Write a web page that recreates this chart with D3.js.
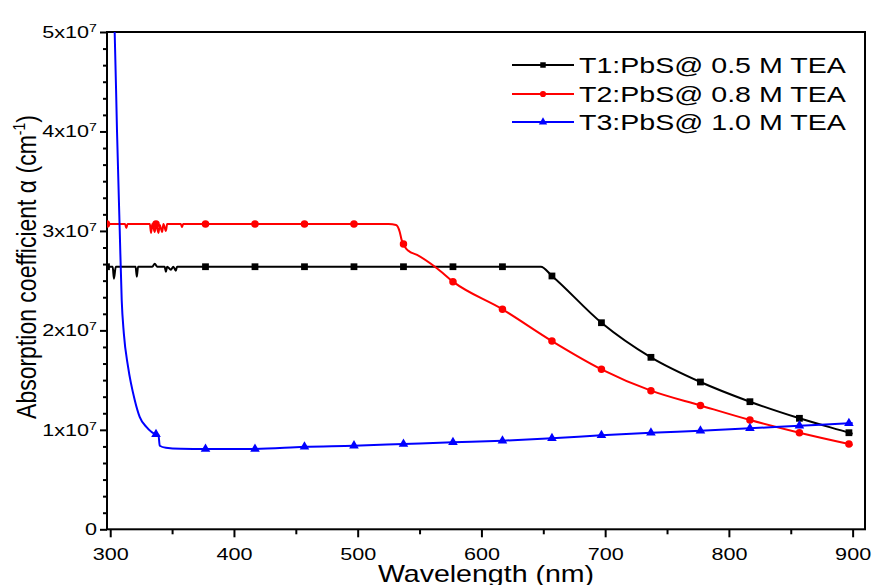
<!DOCTYPE html>
<meta charset="utf-8">
<head>
  <title>PbS absorption coefficient</title>
  <style>
    body { margin: 0; background: #fff; }
    text { font-family: "Liberation Sans", Arial, sans-serif; fill: #000; }
    .frame { fill: none; stroke: #000; stroke-width: 2px; }
    .line { fill: none; stroke-width: 2px; stroke-linejoin: round; }
    .axis line { stroke: #000; stroke-width: 2px; }
    .axis path { display: none; }
  </style>
</head>
<body>
  <svg width="872" height="585"></svg>
  <script src="https://d3js.org/d3.v7.min.js"></script>
  <script>
    // values in units of 1e7 cm^-1
    var markerWl = [297, 337, 377, 417, 457, 497, 537, 577, 617, 657, 697, 737, 777, 817, 857, 897];

    var t1Wl  = [297, 302, 303, 304.5, 320.5, 321.5, 322.5, 334, 336, 338, 344, 345, 346, 349, 351, 353, 354,
                 377, 417, 457, 497, 537, 577, 617, 648, 657, 697, 737, 777, 817, 857, 897, 900];
    var t1Val = [2.64, 2.64, 2.52, 2.64, 2.64, 2.54, 2.64, 2.64, 2.67, 2.64, 2.64, 2.59, 2.64, 2.61, 2.64, 2.60, 2.64,
                 2.64, 2.64, 2.64, 2.64, 2.64, 2.64, 2.64, 2.64, 2.547, 2.077, 1.729, 1.481, 1.283, 1.116, 0.971, 0.96];

    var t2Wl  = [297, 312, 313, 314, 332, 333, 334, 336, 337, 339, 340, 342, 343, 345, 346, 357, 358, 359,
                 377, 417, 457, 497, 525, 531, 534, 535.5, 537, 539, 541, 548, 564,
                 577, 617, 657, 697, 737, 777, 817, 857, 897, 900];
    var t2Val = [3.07, 3.07, 3.03, 3.07, 3.07, 2.98, 3.07, 2.99, 3.07, 2.98, 3.06, 2.99, 3.07, 3.0, 3.07, 3.07, 3.04, 3.07,
                 3.07, 3.07, 3.07, 3.07, 3.07, 3.06, 2.99, 2.91, 2.868, 2.825, 2.80, 2.758, 2.624,
                 2.49, 2.212, 1.893, 1.609, 1.394, 1.245, 1.099, 0.971, 0.858, 0.85];

    var t3Wl  = [297, 300, 303.6, 305.5, 307.7, 309.3, 311, 314.4, 319.8, 323.8, 329.2, 337, 339, 340, 345, 357,
                 377, 417, 457, 497, 537, 577, 617, 657, 697, 737, 777, 817, 857, 897, 900];
    var t3Val = [7.0, 5.7, 5.0, 4.0, 3.0, 2.3, 1.97, 1.635, 1.30, 1.13, 1.03, 0.955, 0.95, 0.84, 0.82, 0.81,
                 0.807, 0.808, 0.83, 0.841, 0.858, 0.875, 0.891, 0.915, 0.945, 0.971, 0.991, 1.015, 1.042, 1.066, 1.068];

    var seriesNames = ["T1:PbS@ 0.5 M TEA", "T2:PbS@ 0.8 M TEA", "T3:PbS@ 1.0 M TEA"];
    var seriesColors = ["#000000", "#ff0000", "#0000ff"];
    var seriesSymbols = [d3.symbolSquare, d3.symbolCircle, d3.symbolTriangle];

    var xMajor = [300, 400, 500, 600, 700, 800, 900];
    var xMinor = [350, 450, 550, 650, 750, 850];
    var yMajor = [0, 1, 2, 3, 4, 5];

    var svg = d3.select("svg");
    var pLeft = 107, pRight = 865, pTop = 32, pBottom = 529.3;

    var x = d3.scaleLinear().domain([297.4, 910]).range([pLeft, pRight]);
    var y = d3.scaleLinear().domain([0, 5]).range([pBottom, pTop]);

    var yMinor = d3.range(0, 31).map(function(k) { return k / 6; })
        .filter(function(v, k) { return k % 6 !== 0; });

    // axes
    var gx = svg.append("g").attr("class", "axis").attr("transform", "translate(0," + pBottom + ")");
    gx.call(d3.axisBottom(x).tickValues(xMinor).tickSize(5).tickFormat(""));
    gx.append("g").call(d3.axisBottom(x).tickValues(xMajor).tickSize(8).tickFormat(d3.format("d")))
      .selectAll("text")
        .attr("y", 19.5).attr("dy", "0.71em")
        .attr("font-size", 16)
        .attr("transform", "scale(1.35,1)");

    var gy = svg.append("g").attr("class", "axis").attr("transform", "translate(" + pLeft + ",0)");
    gy.call(d3.axisLeft(y).tickValues(yMinor).tickSize(4).tickFormat(""));
    gy.append("g").call(d3.axisLeft(y).tickValues(yMajor).tickSize(7))
      .selectAll("text")
        .attr("x", -10 / 1.35)
        .attr("dy", "0.34em")
        .attr("font-size", 16)
        .attr("transform", "scale(1.35,1)")
        .each(function(d) {
          var t = d3.select(this).text(null);
          if (d === 0) { t.text("0"); return; }
          t.append("tspan").text(d + "x10");
          t.append("tspan").attr("dy", -6).attr("font-size", 10.5).text("7");
        });

    svg.selectAll(".axis .tick text").attr("fill", "#000");

    // frame
    svg.append("rect").attr("class", "frame")
      .attr("x", pLeft).attr("y", pTop).attr("width", pRight - pLeft).attr("height", pBottom - pTop);

    // data
    svg.append("clipPath").attr("id", "plot")
      .append("rect").attr("x", pLeft).attr("y", pTop).attr("width", pRight - pLeft).attr("height", pBottom - pTop);

    var plot = svg.append("g").attr("clip-path", "url(#plot)");
    var line = d3.line()
        .x(function(d) { return x(d[0]); })
        .y(function(d) { return y(d[1]); })
        .curve(d3.curveMonotoneX);

    var allWl = [t1Wl, t2Wl, t3Wl], allVal = [t1Val, t2Val, t3Val];
    var symSize = [46, 44, 40];

    allWl.forEach(function(wl, i) {
      var pts = wl.map(function(w, j) { return [w, allVal[i][j]]; });
      plot.append("path").attr("class", "line")
        .attr("stroke", seriesColors[i])
        .attr("d", line(pts));
      plot.selectAll(".m" + i)
        .data(pts.filter(function(p) { return markerWl.indexOf(p[0]) >= 0; }))
        .enter().append("path")
          .attr("class", "m" + i)
          .attr("fill", seriesColors[i])
          .attr("transform", function(d) { return "translate(" + x(d[0]) + "," + y(d[1]) + ")"; })
          .attr("d", d3.symbol().type(seriesSymbols[i]).size(symSize[i]));
    });

    // legend
    var legend = svg.append("g");
    [65, 94, 122].forEach(function(ly, i) {
      legend.append("line").attr("x1", 512).attr("x2", 574).attr("y1", ly).attr("y2", ly)
        .attr("stroke", seriesColors[i]).attr("stroke-width", 2);
      legend.append("path")
        .attr("transform", "translate(543," + ly + ")")
        .attr("fill", seriesColors[i])
        .attr("d", d3.symbol().type(seriesSymbols[i]).size(30));
      legend.append("text")
        .attr("transform", "translate(579," + (ly + 8) + ") scale(1.3,1)")
        .attr("font-size", 22)
        .text(seriesNames[i]);
    });

    // axis titles
    svg.append("text")
      .attr("transform", "translate(486,582) scale(1.19,1)")
      .attr("text-anchor", "middle")
      .attr("font-size", 24)
      .text("Wavelength (nm)");

    var yt = svg.append("text")
      .attr("transform", "translate(36,267) scale(1.2,1) rotate(-90)")
      .attr("text-anchor", "middle")
      .attr("font-size", 23);
    yt.append("tspan").text("Absorption coefficient \u03b1 (cm");
    yt.append("tspan").attr("dy", -9).attr("font-size", 14).text("-1");
    yt.append("tspan").attr("dy", 9).text(")");
  </script>
</body>
</html>
